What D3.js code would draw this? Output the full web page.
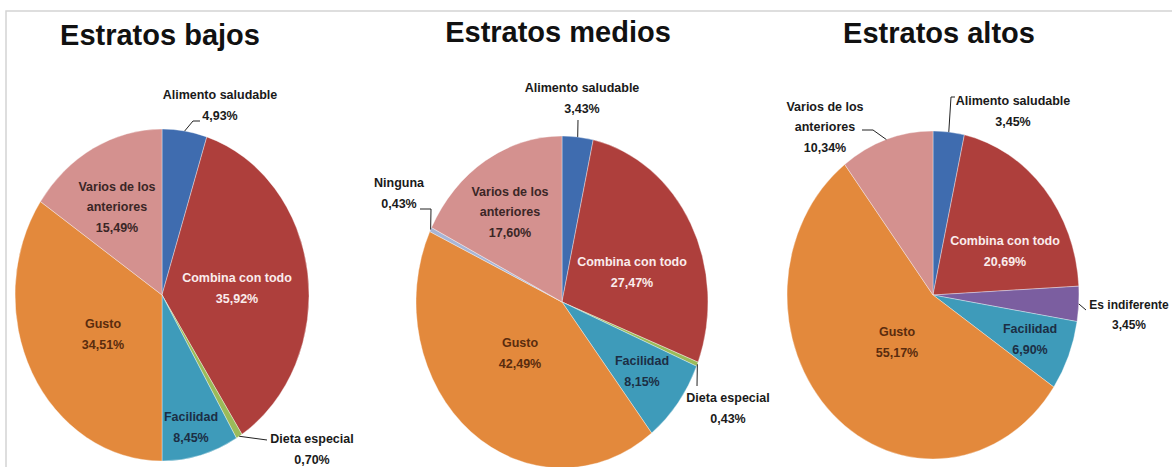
<!DOCTYPE html>
<html>
<head>
<meta charset="UTF-8">
<title>Estratos</title>
<script src="https://d3js.org/d3.v7.min.js"></script>
<style>
  body { margin: 0; background: #fff; }
  text { font-family: "Liberation Sans", Arial, sans-serif; }
</style>
</head>
<body>
<svg id="ch" width="1172" height="467"></svg>
<script>

// data
var categories = ["Alimento saludable", "Combina con todo", "Dieta especial", "Es indiferente",
                  "Facilidad", "Gusto", "Ninguna", "Varios de los anteriores"];
var titles = ["Estratos bajos", "Estratos medios", "Estratos altos"];
var bajos  = [4.93, 35.92, 0.70, 0,    8.45, 34.51, 0,    15.49];
var medios = [3.43, 27.47, 0.43, 0,    8.15, 42.49, 0.43, 17.60];
var altos  = [3.45, 20.69, 0,    3.45, 6.90, 55.17, 0,    10.34];
var series = [bajos, medios, altos];

// styles
var colors = ["#3F6CAF", "#AE3F3C", "#9BBB59", "#7B5EA0", "#3E9BBA", "#E3893C", "#A7B5D6", "#D4918F"];
var inkInside = { "Combina con todo": "#FAECEC", "Gusto": "#5A2C0E", "Facilidad": "#1C2E44",
                  "Varios de los anteriores": "#3A2626" };

// layout: pie ellipses and label placement (offsets from pie centre)
var pies = [
  { cx: 162, cy: 295, rx: 147, ry: 166, tx: 160, ty: 45 },
  { cx: 562, cy: 302, rx: 146, ry: 166, tx: 558, ty: 42 },
  { cx: 933, cy: 295, rx: 146, ry: 164, tx: 939, ty: 43 }
];
var place = [
  { "Alimento saludable": { at: [58, -190], lead: [[31, -174], [38, -174]] },
    "Combina con todo": { at: [75, -7] },
    "Dieta especial": { at: [150, 154], lead: [[105, 145]] },
    "Facilidad": { at: [29, 132] },
    "Gusto": { at: [-59, 39] },
    "Varios de los anteriores": { at: [-45, -88] } },
  { "Alimento saludable": { at: [20, -204], lead: [[16, -182]] },
    "Combina con todo": { at: [70, -30] },
    "Dieta especial": { at: [166, 106], lead: [[135, 84]] },
    "Facilidad": { at: [80, 69] },
    "Gusto": { at: [-42, 51] },
    "Ninguna": { at: [-163, -109], lead: [[-131, -93], [-142, -93]] },
    "Varios de los anteriores": { at: [-52, -90] } },
  { "Alimento saludable": { at: [80, -184], lead: [[18, -198], [22, -198]] },
    "Combina con todo": { at: [72, -44] },
    "Es indiferente": { at: [196, 20], lead: [[153, 15]], size: 12 },
    "Facilidad": { at: [97, 44] },
    "Gusto": { at: [-36, 47] },
    "Varios de los anteriores": { at: [-108, -168], lead: [[-60, -165], [-71, -165]] } }
];

var lineH = 20.5;
var fmt = function (v) { return d3.format(".2f")(v).replace(".", ",") + "%"; };

function wrap(name) {
  var words = name.split(" "), lines = [], cur = "";
  words.forEach(function (w) {
    var t = cur ? cur + " " + w : w;
    if (t.length > 18 && cur) { lines.push(cur); cur = w; } else cur = t;
  });
  lines.push(cur);
  return lines;
}

var svg = d3.select("#ch");

// frame
svg.append("path")
  .attr("d", "M6,467V11H1172")
  .attr("fill", "none")
  .attr("stroke", "#d4d4d4")
  .attr("stroke-width", 1.5);

var pie = d3.pie().sort(null).value(function (d) { return d.v; });

series.forEach(function (vals, i) {
  var p = pies[i];
  var rows = categories.map(function (c, k) { return { name: c, v: vals[k], color: colors[k] }; })
    .filter(function (d) { return d.v > 0; });
  var arcs = pie(rows);
  var arc = d3.arc().innerRadius(0).outerRadius(p.rx);

  svg.append("text")
    .attr("x", p.tx).attr("y", p.ty)
    .attr("text-anchor", "middle")
    .attr("font-size", 29)
    .attr("font-weight", "bold")
    .attr("fill", "#111")
    .text(titles[i]);

  var g = svg.append("g").attr("transform", "translate(" + p.cx + "," + p.cy + ")");

  g.append("g")
    .attr("transform", "scale(1," + (p.ry / p.rx) + ")")
    .selectAll("path")
    .data(arcs)
    .join("path")
    .attr("d", arc)
    .attr("fill", function (d) { return d.data.color; })
    .attr("stroke", "#fff")
    .attr("stroke-opacity", 0.45)
    .attr("stroke-width", 0.8)
    .attr("vector-effect", "non-scaling-stroke");

  arcs.forEach(function (d) {
    var pl = place[i][d.data.name];
    if (!pl) return;
    var mid = (d.startAngle + d.endAngle) / 2;
    if (pl.lead) {
      var pts = [[p.rx * Math.sin(mid), -p.ry * Math.cos(mid)]].concat(pl.lead);
      g.append("path")
        .attr("d", d3.line()(pts))
        .attr("fill", "none")
        .attr("stroke", "#222")
        .attr("stroke-width", 1);
    }
    var lines = wrap(d.data.name).concat([fmt(d.data.v)]);
    var ink = pl.lead ? "#1a1a1a" : (inkInside[d.data.name] || "#222");
    var t = g.append("text")
      .attr("text-anchor", "middle")
      .attr("font-size", pl.size || 12.5)
      .attr("font-weight", "bold")
      .attr("fill", ink);
    var y0 = pl.at[1] - (lines.length - 1) * lineH / 2;
    lines.forEach(function (s, j) {
      t.append("tspan")
        .attr("x", pl.at[0])
        .attr("y", y0 + j * lineH)
        .attr("dy", "0.35em")
        .text(s);
    });
  });
});

</script>
</body>
</html>
